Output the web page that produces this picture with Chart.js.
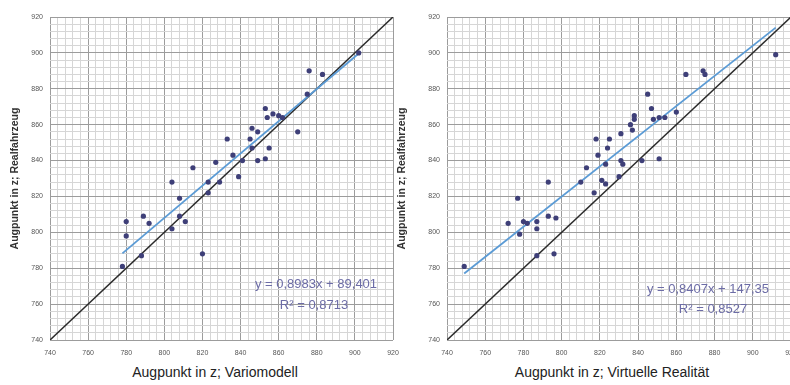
<!DOCTYPE html>
<html>
<head>
<meta charset="utf-8">
<script src="https://cdn.jsdelivr.net/npm/chart.js"></script>
<style>
  html, body {
    margin: 0;
    padding: 0;
    width: 790px;
    height: 385px;
    overflow: hidden;
    background: #ffffff;
    font-family: 'Liberation Sans', Arial, sans-serif;
  }
  canvas {
    position: absolute;
    top: 0;
    filter: blur(0.5px);
  }
  #left { left: 0; }
  #right { left: 395px; }
  .eq {
    position: absolute;
    color: #6c6ca6;
    font-size: 13px;
    white-space: nowrap;
    transform: translateX(-50%);
  }
  .xtitle {
    position: absolute;
    top: 364px;
    font-size: 14px;
    color: #222;
    white-space: nowrap;
    transform: translateX(-50%);
  }
</style>
</head>
<body>
<canvas id="left" width="404" height="362"></canvas>
<canvas id="right" width="400" height="362"></canvas>

<div class="eq" style="left:316px; top:276px;">y = 0,8983x + 89,401</div>
<div class="eq" style="left:314px; top:297px;">R² = 0,8713</div>
<div class="eq" style="left:708px; top:281px;">y = 0,8407x + 147,35</div>
<div class="eq" style="left:713px; top:301px;">R² = 0,8527</div>

<div class="xtitle" style="left:215px;">Augpunkt in z; Variomodell</div>
<div class="xtitle" style="left:612px;">Augpunkt in z; Virtuelle Realität</div>

<script>
  // tick labels (both axes, both charts)
  const tickLabels = [740, 760, 780, 800, 820, 840, 860, 880, 900, 920];

  // Variomodell (x) vs Realfahrzeug (y)
  const varioX = [902, 876, 883, 875, 853, 854, 857, 860, 862, 846, 849, 845, 870, 833, 836, 846, 855, 849, 853, 841,
                  827, 815, 839, 829, 823, 804, 823, 808, 780, 789, 792, 780, 808, 811, 804, 820, 788, 778];
  const varioY = [900, 890, 888, 877, 869, 864, 866, 865, 864, 858, 856, 852, 856, 852, 843, 847, 847, 840, 841, 840,
                  839, 836, 831, 828, 828, 828, 822, 819, 806, 809, 805, 798, 809, 806, 802, 788, 787, 781];
  const varioSlope = 0.8983;
  const varioIntercept = 89.401;
  const varioRange = [778, 902];

  // Virtuelle Realitaet (x) vs Realfahrzeug (y)
  const vrX = [912, 865, 874, 875, 845, 847, 838, 838, 836, 837, 848, 851, 854, 860, 831, 825, 818, 824, 819, 831,
               832, 842, 851, 823, 813, 810, 793, 821, 823, 830, 817, 777, 772, 780, 782, 787, 787, 793, 797, 778,
               787, 796, 749];
  const vrY = [899, 888, 890, 888, 877, 869, 865, 863, 860, 857, 863, 864, 864, 867, 855, 852, 852, 847, 843, 840,
               838, 840, 841, 838, 836, 828, 828, 829, 827, 831, 822, 819, 805, 806, 805, 806, 802, 809, 808, 799,
               787, 788, 781];
  const vrSlope = 0.8407;
  const vrIntercept = 147.35;
  const vrRange = [749, 912];

  function makeAxis(isY, yWidth, titlePad) {
    const axis = {
      type: 'linear',
      min: 740,
      max: 920,
      border: { display: false },
      grid: {
        drawTicks: false,
        lineWidth: 1,
        color: function (ctx) {
          return tickLabels.includes(ctx.tick.value) ? '#9c9c9c' : '#d6d6d6';
        }
      },
      ticks: {
        stepSize: 4,
        autoSkip: false,
        maxRotation: 0,
        color: '#555',
        font: { size: 7, family: 'Liberation Sans' },
        padding: isY ? 7 : 9,
        callback: function (v) {
          return tickLabels.includes(v) ? String(v) : '';
        }
      }
    };
    if (isY) {
      axis.title = {
        display: true,
        text: 'Augpunkt in z; Realfahrzeug',
        color: '#333',
        font: { size: 10.5, weight: 'bold', family: 'Liberation Sans' },
        padding: { top: titlePad, bottom: 0 }
      };
      axis.afterFit = function (s) {
        s.width = yWidth;
        s.paddingTop = 0;
        s.paddingBottom = 0;
      };
    } else {
      axis.afterFit = function (s) {
        s.height = 22;
        s.paddingLeft = 0;
        s.paddingRight = 0;
      };
    }
    return axis;
  }

  function buildChart(id, xs, ys, slope, intercept, range, pad, yWidth, titlePad) {
    const pts = xs.map(function (x, i) { return { x: x, y: ys[i] }; });
    const fit = range.map(function (x) { return { x: x, y: slope * x + intercept }; });
    return new Chart(document.getElementById(id), {
      type: 'scatter',
      data: {
        datasets: [{
          data: pts,
          pointRadius: 2.6,
          pointBackgroundColor: '#3e3f78',
          pointBorderWidth: 0
        }, {
          data: fit,
          showLine: true,
          borderColor: '#5b9bd5',
          borderWidth: 1.8,
          pointRadius: 0
        }, {
          data: [{ x: 740, y: 740 }, { x: 920, y: 920 }],
          showLine: true,
          borderColor: '#2b2b2b',
          borderWidth: 1.5,
          pointRadius: 0
        }]
      },
      options: {
        responsive: false,
        animation: false,
        layout: { padding: pad },
        plugins: { legend: { display: false }, tooltip: { enabled: false } },
        scales: {
          x: makeAxis(false),
          y: makeAxis(true, yWidth, titlePad)
        }
      }
    });
  }

  buildChart('left', varioX, varioY, varioSlope, varioIntercept, varioRange,
    { left: 5, right: 11, top: 17, bottom: 0 }, 45, 4);
  buildChart('right', vrX, vrY, vrSlope, vrIntercept, vrRange,
    { left: 0, right: 1.5, top: 17, bottom: 0 }, 52, 1);
</script>
</body>
</html>
